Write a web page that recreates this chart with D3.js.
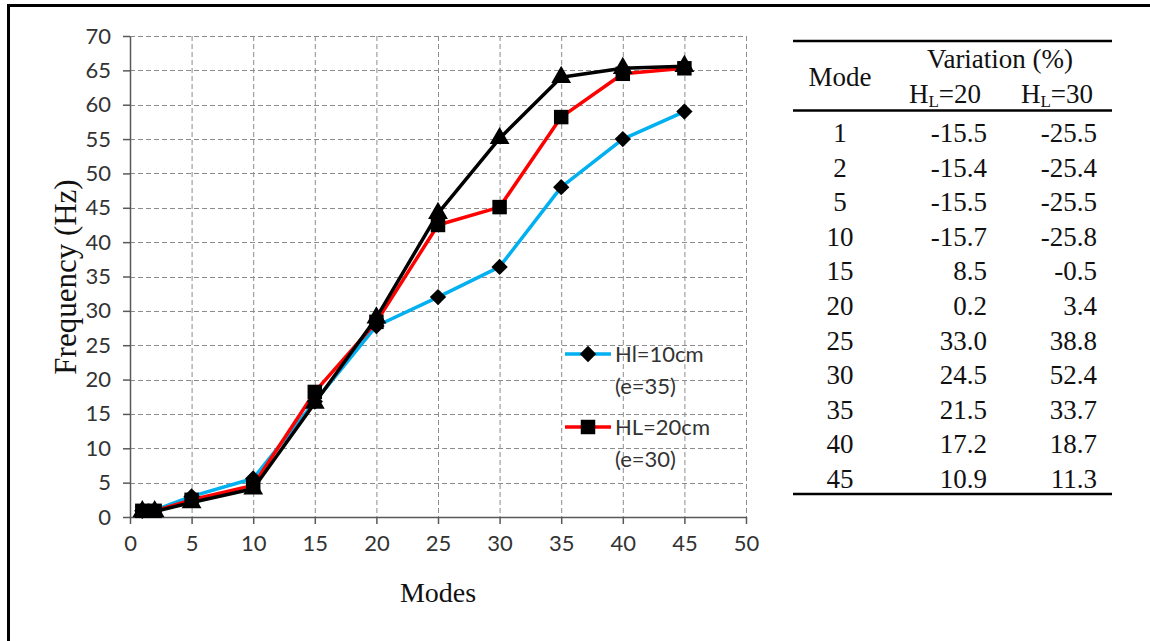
<!DOCTYPE html>
<html>
<head>
<meta charset="utf-8">
<script src="https://cdn.jsdelivr.net/npm/d3@7"></script>
<style>
	body { margin: 0; background: #fff; }
	svg { display: block; }
</style>
</head>
<body>
<div id="container"></div>
<script>
// 1. Data
const modes = [1, 2, 5, 10, 15, 20, 25, 30, 35, 40, 45]
const hl10 = [0.9, 1.0, 3.0, 5.6, 16.8, 27.8, 32.0, 36.4, 48.0, 55.0, 59.0]
const hl20 = [0.9, 0.9, 2.5, 4.6, 18.2, 28.4, 42.5, 45.1, 58.2, 64.5, 65.3]
const hl30 = [0.8, 0.8, 2.1, 4.1, 16.6, 29.0, 44.2, 55.1, 64.0, 65.3, 65.6]

const xTicks = d3.range(0, 51, 5)
const yTicks = d3.range(0, 71, 5)

const tableModes = ["1", "2", "5", "10", "15", "20", "25", "30", "35", "40", "45"]
const var20 = ["-15.5", "-15.4", "-15.5", "-15.7", "8.5", "0.2", "33.0", "24.5", "21.5", "17.2", "10.9"]
const var30 = ["-25.5", "-25.4", "-25.5", "-25.8", "-0.5", "3.4", "38.8", "52.4", "33.7", "18.7", "11.3"]

// 2. Dimensions
const width = 1150
const height = 641
const plot = { left: 130, right: 746, top: 36, bottom: 517 }

const svg = d3.select("#container")
	.append("svg")
	.attr("width", width)
	.attr("height", height)

// frame (only top and left edges show)
svg.append("path")
	.attr("d", "M 8.5 641 L 8.5 5.5 L 1150 5.5")
	.attr("fill", "none")
	.attr("stroke", "black")
	.attr("stroke-width", 3)

// 3. Scales
const x = d3.scaleLinear().domain([0, 50]).range([plot.left, plot.right])
const y = d3.scaleLinear().domain([0, 70]).range([plot.bottom, plot.top])

// 4. Grid
const grid = svg.append("g")
	.attr("stroke", "#8c8c8c")
	.attr("stroke-width", 1)
	.attr("stroke-dasharray", "5,3")

grid.selectAll(".vgrid")
	.data(xTicks.filter(d => d > 0))
	.join("line")
	.attr("x1", d => x(d) + 0.5)
	.attr("x2", d => x(d) + 0.5)
	.attr("y1", plot.top)
	.attr("y2", plot.bottom)

grid.selectAll(".hgrid")
	.data(yTicks.filter(d => d > 0))
	.join("line")
	.attr("y1", d => Math.round(y(d)) + 0.5)
	.attr("y2", d => Math.round(y(d)) + 0.5)
	.attr("x1", plot.left)
	.attr("x2", plot.right)

// 5. Axes
const tickFont = "Lato, 'Open Sans', sans-serif"

const xAxis = svg.append("g")
	.attr("transform", `translate(0, ${plot.bottom})`)
	.call(d3.axisBottom(x).tickValues(xTicks).tickSize(7).tickPadding(11).tickSizeOuter(0))

const yAxis = svg.append("g")
	.attr("transform", `translate(${plot.left}, 0)`)
	.call(d3.axisLeft(y).tickValues(yTicks).tickSize(7).tickPadding(12).tickSizeOuter(0))

for (const axis of [xAxis, yAxis]) {
	axis.select(".domain").attr("stroke", "#595959").attr("stroke-width", 1.5)
	axis.selectAll(".tick line").attr("stroke", "#595959").attr("stroke-width", 1.5)
	axis.selectAll(".tick text")
		.attr("fill", "#333")
		.style("font-family", tickFont)
		.style("font-size", "22px")
}

// axis titles
svg.append("text")
	.attr("transform", `translate(76, 277) rotate(-90)`)
	.attr("text-anchor", "middle")
	.style("font-family", "'Liberation Serif', 'Times New Roman', serif")
	.style("font-size", "31px")
	.attr("fill", "#111")
	.text("Frequency (Hz)")

svg.append("text")
	.attr("x", 438)
	.attr("y", 602)
	.attr("text-anchor", "middle")
	.style("font-family", "'Liberation Serif', 'Times New Roman', serif")
	.style("font-size", "28px")
	.attr("fill", "#111")
	.text("Modes")

// 6. Series
const series = [
	{ name: "hl10", values: hl10, color: "#00b0f0", marker: "diamond" },
	{ name: "hl20", values: hl20, color: "#ff0000", marker: "square" },
	{ name: "hl30", values: hl30, color: "#000000", marker: "triangle" },
]

const line = d3.line()
	.x(d => x(d[0]))
	.y(d => y(d[1]))

series.forEach(s => {
	svg.append("path")
		.datum(modes.map((m, i) => [m, s.values[i]]))
		.attr("d", line)
		.attr("fill", "none")
		.attr("stroke", s.color)
		.attr("stroke-width", 3.5)
		.attr("stroke-linejoin", "round")
})

const symbols = {
	diamond: d3.symbol().type(d3.symbolDiamond2).size(170),
	square: d3.symbol().type(d3.symbolSquare).size(210),
	triangle: d3.symbol().type(d3.symbolTriangle).size(170),
}

// markers: blue, black, then red on top
;[series[0], series[2], series[1]].forEach(s => {
	svg.append("g")
		.selectAll("path")
		.data(modes.map((m, i) => [m, s.values[i]]))
		.join("path")
		.attr("transform", d => `translate(${x(d[0])}, ${y(d[1])})`)
		.attr("d", symbols[s.marker])
		.attr("fill", "black")
})

// 7. Legend
const legendItems = [
	{ color: "#00b0f0", marker: "diamond", lines: ["Hl=10cm", "(e=35)"], y: 354 },
	{ color: "#ff0000", marker: "square", lines: ["HL=20cm", "(e=30)"], y: 427 },
]

const legend = svg.append("g")
legendItems.forEach(item => {
	const g = legend.append("g")
	g.append("line")
		.attr("x1", 565)
		.attr("x2", 611)
		.attr("y1", item.y)
		.attr("y2", item.y)
		.attr("stroke", item.color)
		.attr("stroke-width", 3.5)
	g.append("path")
		.attr("transform", `translate(588, ${item.y})`)
		.attr("d", symbols[item.marker])
		.attr("fill", "black")
	item.lines.forEach((t, i) => {
		g.append("text")
			.attr("x", 615)
			.attr("y", item.y + 8 + i * 32)
			.style("font-family", tickFont)
			.style("font-size", "22px")
			.attr("fill", "#333")
			.text(t)
	})
})

// 8. Table
const serif = "'Liberation Serif', 'Times New Roman', serif"
const table = svg.append("g")
	.style("font-family", serif)
	.style("font-size", "27px")
	.attr("fill", "#111")

const tableLeft = 793
const tableRight = 1112

table.selectAll(".rule")
	.data([41, 110.5, 494])
	.join("line")
	.attr("x1", tableLeft)
	.attr("x2", tableRight)
	.attr("y1", d => d)
	.attr("y2", d => d)
	.attr("stroke", "black")
	.attr("stroke-width", 2.5)

table.append("text")
	.attr("x", 840)
	.attr("y", 86)
	.attr("text-anchor", "middle")
	.text("Mode")

table.append("text")
	.attr("x", 1000)
	.attr("y", 68)
	.attr("text-anchor", "middle")
	.text("Variation (%)")

;[{ cx: 945, val: "20" }, { cx: 1057, val: "30" }].forEach(h => {
	const t = table.append("text")
		.attr("x", h.cx)
		.attr("y", 103)
		.attr("text-anchor", "middle")
	t.append("tspan").text("H")
	t.append("tspan").attr("dy", 4).style("font-size", "17px").text("L")
	t.append("tspan").attr("dy", -4).text("=" + h.val)
})

const rowY = i => 142 + i * 34.6

table.selectAll(".mode")
	.data(tableModes)
	.join("text")
	.attr("x", 840)
	.attr("y", (d, i) => rowY(i))
	.attr("text-anchor", "middle")
	.text(d => d)

table.selectAll(".v20")
	.data(var20)
	.join("text")
	.attr("x", 987)
	.attr("y", (d, i) => rowY(i))
	.attr("text-anchor", "end")
	.text(d => d)

table.selectAll(".v30")
	.data(var30)
	.join("text")
	.attr("x", 1097)
	.attr("y", (d, i) => rowY(i))
	.attr("text-anchor", "end")
	.text(d => d)
</script>
</body>
</html>
